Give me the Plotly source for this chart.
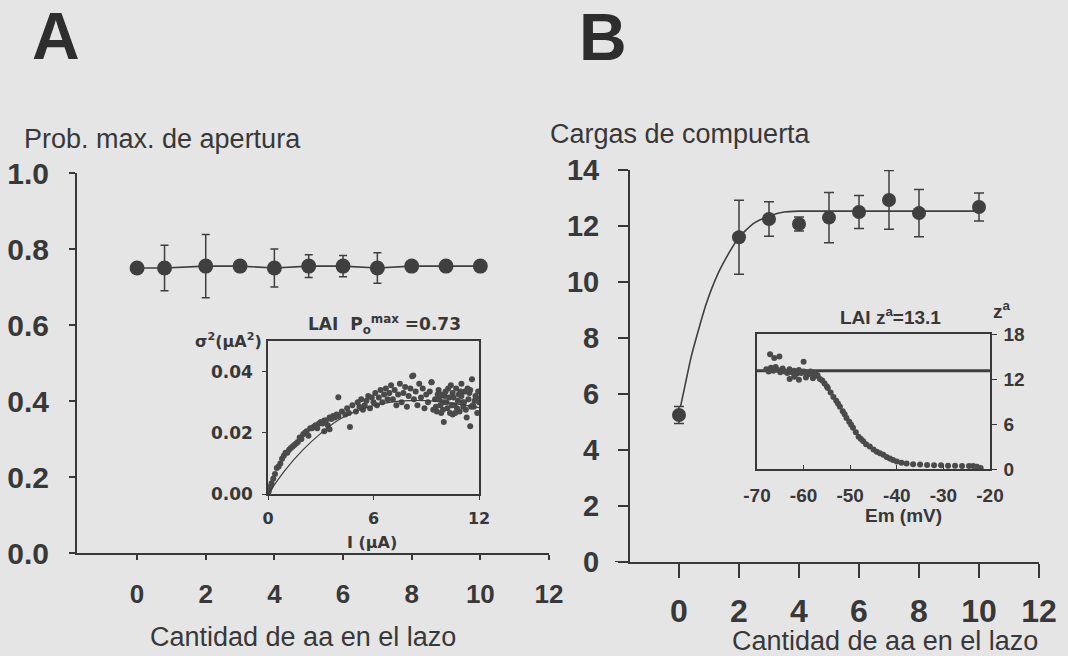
import plotly.graph_objects as go

W, H = 1068, 656
INK = "#383838"
DOT = "#3f3f3f"
BG = "#e5e5e5"
ARIAL = "Liberation Sans, Arial, sans-serif"
WIDE = "DejaVu Sans, Verdana, sans-serif"

# ---- Panel A: maximum open probability vs. number of residues in the loop
a_x = [0, 0.8, 2, 3, 4, 5, 6, 7, 8, 9, 10]
a_y = [0.75, 0.75, 0.755, 0.755, 0.75, 0.755, 0.755, 0.75, 0.755, 0.755, 0.755]
a_err = [0, 0.06, 0.083, 0, 0.05, 0.03, 0.028, 0.04, 0, 0, 0]

# Inset A: variance vs. mean current (LAI)
ia_x = [0, 0.05, 0.1, 0.15, 0.2, 0.3, 0.4, 0.5, 0.6, 0.7, 0.8, 0.9, 1.0, 1.1, 1.2, 1.3,
        1.4, 1.5, 1.6, 1.7, 1.8, 1.9, 2.0, 2.1, 2.2, 2.3, 2.4, 2.5, 2.6, 2.7, 2.8, 2.9,
        3.0, 3.1, 3.2, 3.3, 3.4, 3.5, 3.6, 3.7, 3.8, 3.9, 4.0,
        4.0, 4.66, 3.5, 3.2,
        4.2, 4.4, 4.5, 4.6, 4.8, 5.0, 5.1, 5.2, 5.3, 5.4, 5.5, 5.6, 5.7, 5.8, 5.9, 6.0,
        6.1, 6.2, 6.3, 6.4, 6.5, 6.6, 6.7, 6.8, 6.9, 7.0,
        7.1, 7.2, 7.3, 7.4, 7.5, 7.6, 7.7, 7.8, 7.9, 8.0, 8.1, 8.2, 8.3, 8.4, 8.5, 8.6,
        8.7, 8.8, 8.9, 9.0, 9.1, 9.2, 9.3, 9.4, 8.26, 9.3,
        9.5, 9.6, 9.7, 9.8, 9.9, 10.0, 10.0, 10.1, 10.2, 10.3, 10.4, 10.5, 10.5, 10.6,
        10.7, 10.8, 10.9, 11.0, 11.0, 11.1, 11.2, 11.3, 11.4, 11.5, 11.5, 11.6, 11.7,
        11.8, 11.9, 12.0,
        9.55, 9.75, 9.95, 10.15, 10.35, 10.55, 10.75, 10.95, 11.15, 11.35, 11.55, 11.75,
        11.95, 9.65, 9.85, 10.05, 10.25, 10.45, 10.65, 10.85, 11.05, 11.25, 11.45, 11.65,
        11.85]
ia_y = [0.000, 0.001, 0.002, 0.0025, 0.0035, 0.005, 0.0065, 0.0085, 0.009, 0.010, 0.0115,
        0.0125, 0.0135, 0.0135, 0.0145, 0.015, 0.0155, 0.016, 0.0165, 0.017, 0.0185, 0.018,
        0.0195, 0.020, 0.0205, 0.019, 0.0215, 0.0215, 0.022, 0.0225, 0.0215, 0.023, 0.0235,
        0.023, 0.024, 0.024, 0.0225, 0.025, 0.0245, 0.0255, 0.025, 0.026, 0.0255,
        0.0316, 0.0219, 0.0212, 0.0205,
        0.027, 0.026, 0.028, 0.0265, 0.029, 0.027, 0.030, 0.0285, 0.031, 0.0275, 0.029,
        0.0305, 0.032, 0.028, 0.0315, 0.030, 0.033, 0.029, 0.0315, 0.034, 0.030, 0.0325,
        0.0345, 0.031, 0.033, 0.0355,
        0.031, 0.034, 0.029, 0.0325, 0.036, 0.030, 0.033, 0.035, 0.0285, 0.032, 0.0345,
        0.0385, 0.031, 0.0335, 0.029, 0.036, 0.0315, 0.0345, 0.028, 0.0325, 0.030, 0.0335,
        0.0365, 0.0275, 0.0387, 0.0365,
        0.031, 0.027, 0.034, 0.029, 0.0325, 0.0235, 0.030, 0.0335, 0.028, 0.0315, 0.0355,
        0.026, 0.033, 0.029, 0.0345, 0.0305, 0.027, 0.032, 0.036, 0.0285, 0.0335, 0.025,
        0.031, 0.0221, 0.034, 0.0375, 0.0285, 0.032, 0.0265, 0.030,
        0.0285, 0.031, 0.0275, 0.030, 0.0265, 0.0315, 0.028, 0.0335, 0.030, 0.0345, 0.0285,
        0.0305, 0.0335, 0.0325, 0.0265, 0.032, 0.0345, 0.029, 0.0265, 0.0325, 0.030, 0.0275,
        0.033, 0.029, 0.0315]
ia_fit_x = [0, 1, 2, 3, 4, 5, 6, 7, 8, 9, 10, 11, 12]
ia_fit_y = [0, 0.0080, 0.0145, 0.0198, 0.0242, 0.0270, 0.0289, 0.0300, 0.0305, 0.0305,
            0.0300, 0.0292, 0.0282]

# ---- Panel B: gating charges vs. number of residues in the loop
b_x = [0, 2, 3, 4, 5, 6, 7, 8, 10]
b_y = [5.25, 11.6, 12.25, 12.07, 12.3, 12.5, 12.93, 12.46, 12.68]
b_err = [0.3, 1.32, 0.62, 0.25, 0.9, 0.59, 1.05, 0.84, 0.5]
b_fit_x = [0.05, 0.2, 0.4, 0.6, 0.9, 1.3, 1.7, 2.0, 2.5, 3.0, 3.5, 4.0, 5, 6, 7, 8, 9, 10]
b_fit_y = [5.55, 6.3, 7.3, 8.1, 9.2, 10.3, 11.1, 11.6, 12.1, 12.35, 12.5, 12.53, 12.53,
           12.53, 12.53, 12.53, 12.53, 12.53]

# Inset B: effective valence vs. membrane potential (LAI)
ib_x = [-67.2, -66.3, -65.2, -60.0, -68.0, -67.5, -67.0, -66.5, -66.0, -65.5, -65.0,
        -64.5, -64.0, -63.5, -63.0, -62.5, -62.0, -61.5, -61.0, -60.5, -60.0, -59.5,
        -59.0, -58.5, -58.0, -57.5, -57.0, -63.0, -62.0, -61.0, -59.5, -58.0, -57.5,
        -56.5, -56.0, -55.5, -55.0, -54.8, -54.2, -53.6, -53.0, -52.6, -52.2, -51.6,
        -51.2, -50.8, -50.2, -49.8, -49.4, -48.8, -48.2, -47.7, -47.2, -46.6, -45.8,
        -45.0, -44.3, -43.6, -42.9, -42.2, -41.5, -40.8, -40.0, -39.0, -37.9, -36.5,
        -35.0, -33.5, -32.0, -30.5, -29.0, -27.5, -26.0, -24.5, -23.6, -22.8, -22.0]
ib_y = [15.3, 14.8, 15.0, 14.3, 13.3, 13.0, 13.5, 13.1, 13.6, 13.2, 12.9, 13.4, 13.0,
        12.8, 13.3, 12.9, 13.1, 12.7, 13.2, 12.8, 13.0, 12.9, 12.6, 13.0, 12.7, 12.8,
        12.5, 12.0, 12.3, 11.9, 12.2, 12.1, 12.4, 12.0, 11.8, 11.4, 11.0, 10.8, 10.2,
        9.6, 9.1, 8.7, 8.3, 7.7, 7.3, 6.8, 6.3, 5.9, 5.5, 4.9, 4.3, 4.0, 3.7, 3.3, 3.0,
        2.6, 2.3, 2.1, 1.9, 1.6, 1.4, 1.2, 1.0, 0.85, 0.75, 0.65, 0.6, 0.55, 0.5, 0.5,
        0.45, 0.45, 0.4, 0.4, 0.4, 0.3, 0.15]
ib_za = 13.1
ib_line_x = [-70, -20]
ib_em_ticks = [-70, -60, -50, -40, -30, -20]
ib_em_labels = ["-70", "-60", "-50", "-40", "-30", "-20"]

# ---- subplot placement (pixels -> paper fractions)
def fx(px):
    return px / W

def fy(py):
    return 1 - py / H

fig = go.Figure()

# Panel A main
fig.add_trace(go.Scatter(
    x=a_x, y=a_y, mode="lines+markers", xaxis="x", yaxis="y",
    line=dict(color=DOT, width=1.6),
    marker=dict(size=15, color=DOT),
    error_y=dict(type="data", array=a_err, color=DOT, thickness=1.5, width=4),
))
# Inset A
fig.add_trace(go.Scatter(
    x=ia_x, y=ia_y, mode="markers", xaxis="x2", yaxis="y2",
    marker=dict(size=6, color="#4a4a4a"),
))
fig.add_trace(go.Scatter(
    x=ia_fit_x, y=ia_fit_y, mode="lines", xaxis="x2", yaxis="y2",
    line=dict(color=DOT, width=1.2, shape="spline"),
))
# Panel B main
fig.add_trace(go.Scatter(
    x=b_fit_x, y=b_fit_y, mode="lines", xaxis="x3", yaxis="y3",
    line=dict(color=DOT, width=1.6, shape="spline", smoothing=0.6),
))
fig.add_trace(go.Scatter(
    x=b_x, y=b_y, mode="markers", xaxis="x3", yaxis="y3",
    marker=dict(size=14, color=DOT),
    error_y=dict(type="data", array=b_err, color=DOT, thickness=1.5, width=5),
))
# Inset B
fig.add_trace(go.Scatter(
    x=ib_line_x, y=[ib_za, ib_za], mode="lines", xaxis="x4", yaxis="y4",
    line=dict(color=DOT, width=3),
))
fig.add_trace(go.Scatter(
    x=ib_x, y=ib_y, mode="markers", xaxis="x4", yaxis="y4",
    marker=dict(size=6, color="#4a4a4a"),
))

axis_common = dict(showgrid=False, zeroline=False, showline=True, linecolor=INK,
                   ticks="outside", tickcolor=INK, automargin=False)

fig.update_layout(
    template="none",
    width=W, height=H, margin=dict(l=0, r=0, t=0, b=0, pad=0),
    paper_bgcolor=BG, plot_bgcolor="rgba(0,0,0,0)", showlegend=False,
    # Panel A
    xaxis=dict(axis_common, domain=[fx(77), fx(549)], range=[-1.75, 12],
               tickvals=[0, 2, 4, 6, 8, 10, 12], ticklen=5, tickwidth=1.5, linewidth=2,
               tickfont=dict(family=ARIAL, size=26, color=INK, weight="bold"),
               ticklabelstandoff=12, anchor="y"),
    yaxis=dict(axis_common, domain=[fy(553), fy(173)], range=[0, 1.0],
               tickvals=[0, 0.2, 0.4, 0.6, 0.8, 1.0], tickformat=".1f", ticklen=6,
               tickwidth=1.5, linewidth=2,
               tickfont=dict(family=ARIAL, size=30, color=INK, weight="bold"),
               ticklabelstandoff=14, anchor="x"),
    # Inset A
    xaxis2=dict(axis_common, domain=[fx(268), fx(479)], range=[0, 12], mirror=True,
                tickvals=[0, 6, 12], ticklen=4, linewidth=1.5,
                tickfont=dict(family=WIDE, size=16, color=INK, weight="bold"),
                ticklabelstandoff=5, anchor="y2"),
    yaxis2=dict(axis_common, domain=[fy(494), fy(341)], range=[0, 0.05], mirror=True,
                tickvals=[0, 0.02, 0.04], tickformat=".2f", ticklen=4, linewidth=1.5,
                tickfont=dict(family=WIDE, size=17, color=INK, weight="bold"),
                ticklabelstandoff=6, anchor="x2"),
    # Panel B
    xaxis3=dict(axis_common, domain=[fx(630), fx(1039)], range=[-1.633, 12],
                tickvals=[0, 2, 4, 6, 8, 10, 12], ticklen=14, tickwidth=1.5, linewidth=2,
                tickfont=dict(family=ARIAL, size=32, color=INK, weight="bold"),
                ticklabelstandoff=6, anchor="y3"),
    yaxis3=dict(axis_common, domain=[fy(562), fy(170)], range=[0, 14],
                tickvals=[0, 2, 4, 6, 8, 10, 12, 14], ticklen=10, tickwidth=1.5,
                linewidth=2,
                tickfont=dict(family=ARIAL, size=29, color=INK, weight="bold"),
                ticklabelstandoff=13, anchor="x3"),
    # Inset B
    xaxis4=dict(axis_common, domain=[fx(757), fx(990)], range=[-70, -20], mirror=True,
                tickvals=ib_em_ticks, ticktext=ib_em_labels, ticks="inside", ticklen=4,
                linewidth=1.5,
                tickfont=dict(family=ARIAL, size=19, color=INK, weight="bold"),
                ticklabelstandoff=8, anchor="y4"),
    yaxis4=dict(axis_common, domain=[fy(469), fy(334)], range=[0, 18], mirror=True,
                side="right", tickvals=[0, 6, 12, 18], ticklen=5, linewidth=1.5,
                tickfont=dict(family=ARIAL, size=19, color=INK, weight="bold"),
                ticklabelstandoff=3, anchor="x4"),
)

# short extensions of the main x axes to the left of the y axes
fig.add_shape(type="line", xref="paper", yref="y", x0=fx(69), x1=fx(77), y0=0, y1=0,
              line=dict(color=INK, width=2))
fig.add_shape(type="line", xref="paper", yref="y3", x0=fx(615), x1=fx(630), y0=0, y1=0,
              line=dict(color=INK, width=2))


def label(text, px, py, size, family=ARIAL, bold=False, xanchor="center", color=INK):
    fig.add_annotation(
        text=text, x=fx(px), y=fy(py), xref="paper", yref="paper",
        xanchor=xanchor, yanchor="middle", showarrow=False,
        font=dict(family=family, size=size, color=color,
                  weight="bold" if bold else "normal"),
    )


# panel letters
label("A", 56, 36, 66, bold=True, color="#2e2e2e")
label("B", 603, 37, 66, bold=True, color="#2e2e2e")
# panel titles
label("Prob. max. de apertura", 22, 139, 27, xanchor="left")
label("Cargas de compuerta", 548, 134, 27, xanchor="left")
# x-axis titles
label("Cantidad de aa en el lazo", 303, 637, 27)
label("Cantidad de aa en el lazo", 885, 641, 27)
# inset A texts
label("LAI  P<sub>o</sub><sup>max</sup> =0.73", 384, 325, 17, family=WIDE, bold=True)
label("σ<sup>2</sup>(μA<sup>2</sup>)", 228, 340, 16, family=WIDE, bold=True)
label("I (μA)", 372, 542, 16, family=WIDE, bold=True)
# inset B texts
label("LAI z<sup>a</sup>=13.1", 890, 316, 19, bold=True)
label("z<sup>a</sup>", 1002, 310, 19, bold=True)
label("Em (mV)", 903, 515, 19, bold=True)

fig.write_html("out.html")
